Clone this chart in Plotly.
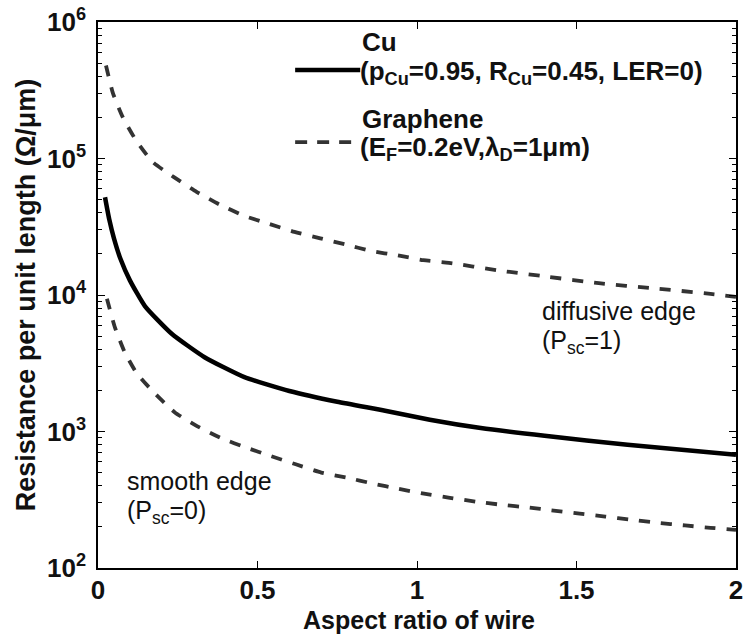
import plotly.graph_objects as go

# Cu wire resistance per unit length vs aspect ratio
cu_aspect = [0.022, 0.035, 0.05, 0.07, 0.10, 0.147, 0.231, 0.334, 0.459,
             0.60, 0.75, 0.90, 1.04, 1.20, 1.40, 1.66, 2.0]
cu_res = [5.2e4, 3.6e4, 2.6e4, 1.85e4, 1.28e4, 8.3e3, 5.2e3, 3.5e3, 2.5e3,
          1.98e3, 1.65e3, 1.42e3, 1.22e3, 1.06e3, 930, 800, 676]

# Graphene, diffusive edge scattering (P_sc = 1)
gr_diff_aspect = [0.025, 0.047, 0.078, 0.119, 0.172, 0.238, 0.309, 0.381, 0.459,
                  0.531, 0.616, 0.697, 0.775, 0.856, 0.94, 1.02, 1.10, 1.25,
                  1.41, 1.57, 1.74, 1.92, 2.0]
gr_diff_res = [4.8e5, 3.0e5, 2.0e5, 1.36e5, 9.4e4, 7.3e4, 5.7e4, 4.6e4, 3.8e4,
               3.35e4, 2.9e4, 2.6e4, 2.35e4, 2.1e4, 1.95e4, 1.8e4, 1.72e4, 1.52e4,
               1.36e4, 1.22e4, 1.12e4, 1.02e4, 9.7e3]

# Graphene, smooth edge (P_sc = 0)
gr_smooth_aspect = [0.028, 0.053, 0.084, 0.122, 0.178, 0.241, 0.309, 0.388, 0.466,
                    0.538, 0.62, 0.70, 0.778, 0.8625, 0.94, 1.022, 1.103, 1.184,
                    1.2625, 1.353, 1.42, 1.51, 1.59, 1.67, 1.75, 1.84, 1.92, 2.0]
gr_smooth_res = [9.4e3, 5.8e3, 3.8e3, 2.66e3, 1.9e3, 1.38e3, 1.1e3, 890, 760,
                 665, 575, 500, 460, 415, 381, 350, 327, 306,
                 291, 277, 265, 250, 238, 226, 215, 205, 197, 190]

x_ticks = [0, 0.5, 1, 1.5, 2]
x_ticktext = ["<b>0</b>", "<b>0.5</b>", "<b>1</b>", "<b>1.5</b>", "<b>2</b>"]
y_ticks = [1e2, 1e3, 1e4, 1e5, 1e6]
y_ticktext = ["<b>10<sup>2</sup></b>", "<b>10<sup>3</sup></b>", "<b>10<sup>4</sup></b>",
              "<b>10<sup>5</sup></b>", "<b>10<sup>6</sup></b>"]
y_minor = [m * 10 ** e for e in range(2, 6) for m in range(2, 10)]

FONT = "Liberation Sans, Arial, Helvetica, sans-serif"
DASH_COLOR = "#333333"

fig = go.Figure()
fig.add_trace(go.Scatter(x=gr_diff_aspect, y=gr_diff_res, mode="lines",
                         line=dict(color=DASH_COLOR, width=3.8, dash="11px,11px",
                                   shape="spline", smoothing=0.5),
                         showlegend=False))
fig.add_trace(go.Scatter(x=gr_smooth_aspect, y=gr_smooth_res, mode="lines",
                         line=dict(color=DASH_COLOR, width=3.8, dash="11px,11px",
                                   shape="spline", smoothing=0.5),
                         showlegend=False))
fig.add_trace(go.Scatter(x=cu_aspect, y=cu_res, mode="lines",
                         line=dict(color="black", width=4.5,
                                   shape="spline", smoothing=0.5),
                         showlegend=False))

# Hand-drawn legend block
fig.add_shape(type="line", xref="paper", yref="paper",
              x0=0.309, x1=0.411, y0=0.912, y1=0.912,
              line=dict(color="black", width=4.5))
fig.add_shape(type="line", xref="paper", yref="paper",
              x0=0.309, x1=0.411, y0=0.780, y1=0.780,
              line=dict(color=DASH_COLOR, width=3.8, dash="12px,10px"))

bold = dict(family=FONT, size=26, color="#111")
reg = dict(family=FONT, size=25, color="#111")


def note(text, px, py, font, xanchor="left"):
    # px, py are page pixels of the text's anchor / vertical centre
    fig.add_annotation(text=text, xref="paper", yref="paper",
                       x=(px - 98) / 638, y=(568 - py) / 546,
                       xanchor=xanchor, yanchor="middle", showarrow=False,
                       font=font, align="left")


note("<b>Cu</b>", 360, 42, bold)
note("<b>(p<sub>Cu</sub>=0.95, R<sub>Cu</sub>=0.45, LER=0)</b>", 358, 72, bold)
note("<b>Graphene</b>", 360, 119, bold)
note("<b>(E<sub>F</sub>=0.2eV,λ<sub>D</sub>=1μm)</b>", 358, 149, bold)

note("diffusive edge", 540, 311, reg)
note("(P<sub>sc</sub>=1)", 540, 342, reg)
note("smooth edge", 125, 481, reg)
note("(P<sub>sc</sub>=0)", 125, 512, reg)

# x-axis title placed below the tick labels
note("<b>Aspect ratio of wire</b>", 419, 620,
     dict(family=FONT, size=25, color="#111"), xanchor="center")

tick_font = dict(family=FONT, size=26, color="#111")

axis_common = dict(showline=True, linecolor="black", linewidth=1.5,
                   mirror="allticks", ticks="inside", ticklen=7,
                   tickwidth=1.2, tickcolor="black", showgrid=False,
                   zeroline=False, tickfont=tick_font, automargin=False)

fig.update_xaxes(range=[0, 2], tickvals=x_ticks, ticktext=x_ticktext,
                 ticklabelstandoff=-2, **axis_common)
fig.update_yaxes(type="log", range=[2, 6], tickvals=y_ticks, ticktext=y_ticktext,
                 ticklabelstandoff=5,
                 minor=dict(ticks="inside", ticklen=4, tickwidth=1,
                            tickcolor="black", tickvals=y_minor),
                 title=dict(text="<b>Resistance per unit length (Ω/μm)</b>",
                            standoff=4, font=dict(family=FONT, size=27, color="#111")),
                 **axis_common)

fig.update_layout(width=747, height=637, autosize=False,
                  margin=dict(l=98, r=11, t=22, b=69),
                  plot_bgcolor="white", paper_bgcolor="white",
                  font=dict(family=FONT, color="#111"))

fig.write_html("out.html")
